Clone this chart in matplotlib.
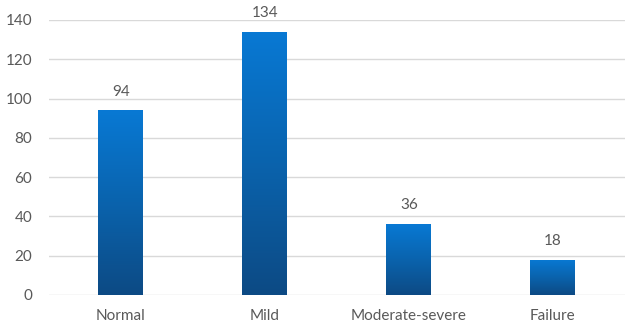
import numpy as np
import matplotlib.pyplot as plt
from matplotlib.colors import LinearSegmentedColormap

categories = ["Normal", "Mild", "Moderate-severe", "Failure"]
counts = [94, 134, 36, 18]
y_ticks = [0, 20, 40, 60, 80, 100, 120, 140]

plt.rcParams["font.family"] = ["Lato", "DejaVu Sans"]

fig = plt.figure(figsize=(6.28, 3.22), dpi=100)
ax = fig.add_axes([0.078, 0.084, 0.917, 0.854])

x = np.arange(len(categories))
bars = ax.bar(x, counts, width=0.3125, color="none", edgecolor="none", zorder=3)

# vertical gradient inside each bar, light blue at the top to navy at the base
grad = LinearSegmentedColormap.from_list("bar", ["#0d4a84", "#0a63ad", "#0879d4"])
ramp = np.linspace(0, 1, 256).reshape(-1, 1)
for b, v in zip(bars, counts):
    x0 = b.get_x()
    im = ax.imshow(ramp, cmap=grad, origin="lower", aspect="auto",
                   extent=(x0, x0 + b.get_width(), 0, v), zorder=3)
    im.set_clip_path(b)
    ax.text(b.get_x() + b.get_width() / 2, v + 6, str(v), ha="center", va="bottom",
            fontsize=11, color="#595959", clip_on=False)

ax.set_xlim(-0.5, len(categories) - 0.5)
ax.set_ylim(0, 140)
ax.set_yticks(y_ticks)
ax.set_xticks(x)
ax.set_xticklabels(categories)
ax.tick_params(axis="both", length=0, labelsize=11, labelcolor="#595959")
ax.tick_params(axis="y", pad=12)
ax.tick_params(axis="x", pad=10)
ax.grid(axis="y", color="#d9d9d9", linewidth=1, zorder=0)
for s in ax.spines.values():
    s.set_visible(False)

fig.savefig("out.png", dpi=100)
